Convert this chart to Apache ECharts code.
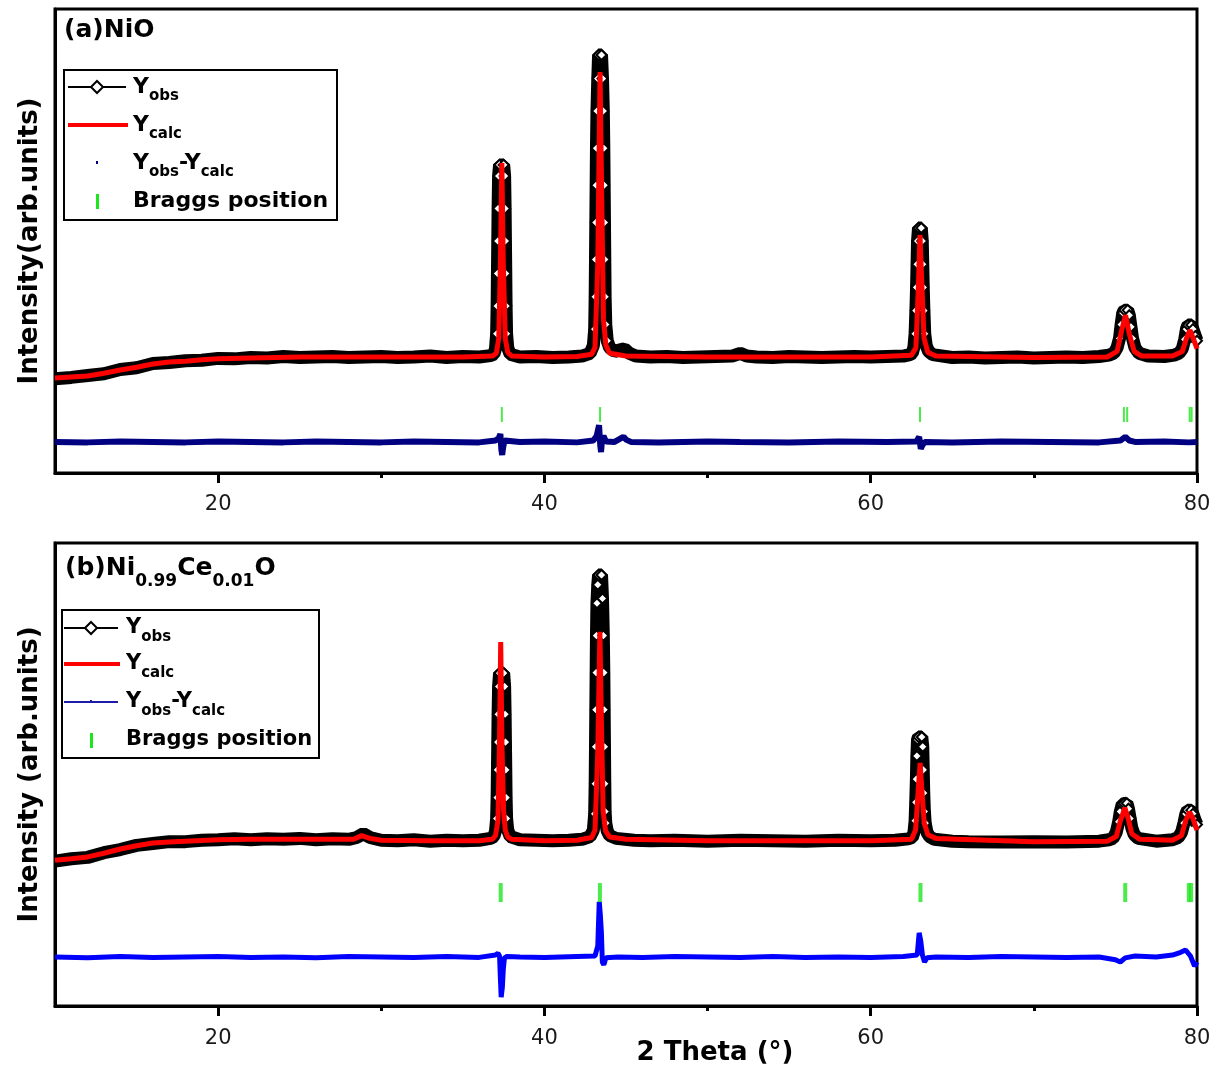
<!DOCTYPE html>
<html>
<head>
<meta charset="utf-8">
<title>Rietveld refinement NiO / Ni0.99Ce0.01O</title>
<script src="https://cdn.jsdelivr.net/npm/echarts@6/dist/echarts.min.js"></script>
<style>
html, body { margin: 0; padding: 0; background: #fff; }
#main { width: 1224px; height: 1074px; }
</style>
</head>
<body>
<div id="main"></div>
<script>
// ---- (a) NiO : [2theta, intensity (arb. units)] ----
var aObs = [
	[10,203],[11,206],[12,210],[13,214],[14,223],[15,227],[16,236],[17,238],[18,242],[19,243],[20,247],[21,246],[22,249],[23,248],[24,251],[25,249],[26,250],[27,251],[28,249],[29,250],[30,251],[31,249],[32,250],[33,252],[34,249],[35,251],[36,250],[36.7,253],
	[36.9,256],[37.0,268],[37.07,300],[37.1,360],[37.12,430],[37.14,500],[37.16,570],[37.19,640],[37.25,664],[37.5,664],[37.56,640],[37.59,570],[37.61,500],[37.63,430],[37.65,360],[37.68,300],[37.75,270],[37.9,256],
	[38.5,250],[39.5,251],[40.5,249],[41.5,250],[42.3,252],[42.8,258],
	[42.9,262],[43.0,275],[43.08,310],[43.11,380],[43.13,460],[43.15,540],[43.17,620],[43.19,700],[43.22,780],[43.27,850],[43.32,901],[43.5,901],[43.56,850],[43.61,780],[43.64,700],[43.66,620],[43.68,540],[43.7,460],[43.72,380],[43.76,320],[43.85,285],[44.0,270],[44.3,262],[44.6,265],[44.9,268],[45.2,258],[45.6,252],
	[46.5,250],[47.5,251],[48.5,249],[49.5,250],[50.5,251],[51.5,252],[52,258],[52.4,252],[53,250],[54,249],[55,251],[56,250],[57,249],[58,250],[59,251],[60,250],[61,251],[62,252],[62.4,255],
	[62.55,258],[62.65,272],[62.72,300],[62.77,350],[62.81,400],[62.84,450],[62.87,500],[62.93,528],[63.1,528],[63.16,500],[63.19,450],[63.22,400],[63.26,350],[63.31,300],[63.4,275],[63.55,262],[63.8,255],
	[65,249],[66,250],[67,248],[68,249],[69,250],[70,248],[71,249],[72,250],[73,249],[74,251],[74.6,254],
	[74.9,258],[75.1,270],[75.25,290],[75.35,320],[75.45,345],[75.55,351],[75.75,351],[75.85,340],[75.95,315],[76.05,290],[76.2,270],[76.45,258],[77,252],[78,251],[78.6,254],
	[78.9,258],[79.1,268],[79.25,288],[79.35,310],[79.45,319],[79.65,319],[79.75,310],[79.9,295],[80,285]
];
var aCalc = [
	[10,205],[11,207],[12,209],[13,215],[14,222],[15,228],[16,235],[17,239],[18,241],[19,244],[20,246],[22,248],[25,250],[30,250],[35,250],
	[36.8,252],[37.05,258],[37.2,290],[37.3,450],[37.39,668],[37.48,450],[37.6,290],[37.75,260],[38,252],[40,250],[42,251],
	[42.9,256],[43.1,270],[43.27,450],[43.41,864],[43.51,600],[43.62,330],[43.77,275],[44,258],[45,252],[50,250],[55,250],[60,250],
	[62.5,254],[62.77,270],[62.92,400],[63.02,513],[63.12,420],[63.27,290],[63.5,260],[64,252],[70,249],[74.5,250],
	[75.1,262],[75.4,310],[75.62,340],[75.85,300],[76.15,262],[76.6,252],[78.5,252],[79.1,262],[79.35,290],[79.57,308],[79.77,290],[80,268]
];
var aDiff = [
	[10,67],[12,66],[14,68],[16,67],[18,66],[20,68],[22,67],[24,66],[26,68],[28,67],[30,66],[32,68],[34,67],[36,66],
	[37.0,70],[37.2,75],[37.3,84],[37.36,50],[37.41,39],[37.47,55],[37.55,70],[37.65,66],[38.5,67],[40,68],[42,66],
	[43.0,70],[43.2,80],[43.35,103],[43.42,60],[43.47,45],[43.54,75],[43.62,80],[43.77,68],[44.3,67],[44.7,75],[44.85,78],[45.0,72],[45.3,67],
	[47,66],[50,68],[52,67],[55,66],[58,68],[61,67],[62.8,68],[62.97,78],[63.07,52],[63.17,60],[63.32,67],
	[65,66],[68,68],[71,67],[74,66],[75.3,70],[75.6,78],[75.85,70],[76.2,67],[78,68],[79.5,66],[80,67]
];
var aBragg = [37.39, 43.41, 63.02, 75.52, 75.72, 79.55, 79.67];
var aBraggLevel = 126;

// ---- (b) Ni0.99Ce0.01O ----
var bObs = [
	[10,313],[11,318],[12,321],[13,331],[14,338],[15,347],[16,351],[17,355],[18,355],[19,358],[20,359],[21,361],[22,359],[23,361],[24,360],[25,362],[26,359],[27,361],[28,360],[28.5,364],[28.9,372],[29.3,364],[30,358],[31,357],[32,359],[33,356],[34,358],[35,357],[36,358],[36.7,362],
	[36.9,366],[37.0,378],[37.07,405],[37.1,450],[37.12,510],[37.14,570],[37.16,630],[37.19,690],[37.25,719],[37.5,719],[37.56,690],[37.59,630],[37.61,570],[37.63,510],[37.65,450],[37.68,405],[37.75,380],[37.9,366],
	[38.5,359],[39.5,358],[40.5,357],[41.5,358],[42.3,360],[42.8,366],
	[42.9,368],[43.0,380],[43.08,415],[43.11,480],[43.13,560],[43.15,640],[43.17,720],[43.19,800],[43.22,870],[43.27,910],[43.32,931],[43.5,931],[43.56,880],[43.61,800],[43.64,720],[43.66,640],[43.68,560],[43.7,480],[43.72,420],[43.76,395],[43.85,378],[44.0,368],[44.4,362],[45.5,358],
	[46.5,357],[48,358],[50,356],[52,358],[54,357],[56,356],[58,358],[60,357],[61.5,358],[62.3,361],
	[62.55,364],[62.65,375],[62.72,400],[62.76,440],[62.8,490],[62.83,540],[62.87,575],[62.93,581],[63.13,581],[63.19,560],[63.22,510],[63.25,460],[63.29,420],[63.34,395],[63.45,375],[63.6,366],[63.9,360],
	[65,356],[66,355],[68,354],[70,355],[72,354],[74,356],[74.6,359],
	[74.85,362],[75.05,375],[75.2,398],[75.3,420],[75.42,436],[75.52,438],[75.7,438],[75.8,426],[75.9,405],[76.0,385],[76.15,370],[76.4,362],[77.5,356],[78.5,359],
	[78.85,364],[79.05,375],[79.2,395],[79.32,415],[79.42,423],[79.65,423],[79.75,415],[79.9,400],[80,392]
];
var bCalc = [
	[10,315],[11,318],[12,322],[13,330],[14,339],[15,346],[16,352],[17,354],[18,356],[20,359],[22,360],[25,360],[28.3,360],[28.8,368],[29.3,362],[30,358],[33,357],[36,357],
	[36.8,360],[37.0,368],[37.15,400],[37.24,560],[37.32,786],[37.4,560],[37.5,420],[37.6,380],[37.75,365],[38,360],[40,357],[42,358],
	[42.9,364],[43.1,380],[43.27,550],[43.4,808],[43.5,600],[43.6,420],[43.75,378],[44,365],[45,360],[50,357],[55,357],[60,357],
	[62.5,360],[62.75,380],[62.92,470],[63.03,525],[63.13,470],[63.28,395],[63.5,370],[64,362],[70,355],[74.5,356],
	[75.05,366],[75.3,400],[75.58,428],[75.78,405],[76.0,372],[76.5,360],[78.5,358],[79.05,368],[79.3,400],[79.55,419],[79.75,405],[80,380]
];
var bDiff = [
	[10,106],[12,104],[14,107],[16,105],[18,106],[20,107],[22,105],[24,106],[26,104],[28,107],[30,106],[32,105],[34,107],[36,105],
	[37.0,110],[37.15,114],[37.25,108],[37.3,60],[37.35,19],[37.42,40],[37.48,80],[37.55,104],[37.7,107],[38.5,106],[40,105],[42,107],
	[43.1,108],[43.27,130],[43.36,225],[43.42,200],[43.49,160],[43.55,95],[43.64,89],[43.77,104],[44.5,106],[46,105],[48,107],[50,106],[52,105],[54,107],[56,105],[58,106],[60,105],[62,107],
	[62.85,110],[62.97,158],[63.07,140],[63.17,110],[63.3,95],[63.45,104],[64,106],[66,105],[68,107],[70,106],[72,105],[74,106],
	[75.0,100],[75.3,95],[75.6,104],[76.2,108],[77.5,106],[78.5,110],[79.0,116],[79.3,121],[79.6,108],[79.85,86],[80,95]
];
var bBragg = [37.32, 43.4, 63.05, 75.6, 79.5, 79.64];
var bBraggLevel = 245;

var xMajor = [20, 40, 60, 80];
var xMinor = [30, 50, 70];

var FONT = 'DejaVu Sans';
var myChart = echarts.init(document.getElementById('main'));

function braggData(pos, level) {
	return pos.map(function(p) { return [p, level]; });
}

// x axes: main (ticks+labels) and a second one only for the short minor ticks
function mainX(grid, margin) {
	return {
		type : 'value', gridIndex : grid, position : 'bottom', min : 10, max : 80,
		axisLine : { show : true, lineStyle : { color : '#000', width : 3 } },
		axisTick : { show : true, customValues : xMajor, length : 10, lineStyle : { color : '#000', width : 3 } },
		axisLabel : { customValues : xMajor, margin : margin, fontFamily : FONT, fontSize : 21, color : '#1a1a1a' },
		splitLine : { show : false }
	};
}
function minorX(grid) {
	return {
		type : 'value', gridIndex : grid, position : 'bottom', offset : 0, min : 10, max : 80,
		axisLine : { show : false },
		axisTick : { show : true, customValues : xMinor, length : 5, lineStyle : { color : '#000', width : 3 } },
		axisLabel : { show : false },
		splitLine : { show : false }
	};
}
function yAx(grid, name) {
	return {
		type : 'value', gridIndex : grid, min : 0, max : 1000,
		name : name, nameLocation : 'middle', nameGap : 12,
		nameTextStyle : { fontFamily : FONT, fontWeight : 'bold', fontSize : 26, color : '#000' },
		axisLine : { show : true, lineStyle : { color : '#000', width : 3 } },
		axisTick : { show : false }, axisLabel : { show : false }, splitLine : { show : false }
	};
}

function panelSeries(xi, yi, obs, calc, diff, diffColor, diffWidth, bragg, level, braggSize, symLimit) {
	return [
		{
			name : 'Yobs', type : 'line', xAxisIndex : xi, yAxisIndex : yi, data : obs,
			symbol : 'diamond', showAllSymbol : true,
			symbolSize : function(v) { return v[1] > symLimit ? 10 : 0; },
			lineStyle : { color : '#000', width : 13, join : 'bevel' },
			itemStyle : { color : '#fff', borderColor : '#000', borderWidth : 2 },
			z : 2
		},
		{
			name : 'Ycalc', type : 'line', xAxisIndex : xi, yAxisIndex : yi, data : calc,
			symbol : 'none', lineStyle : { color : '#ff0000', width : 5, join : 'bevel' }, z : 3
		},
		{
			name : 'Yobs-Ycalc', type : 'line', xAxisIndex : xi, yAxisIndex : yi, data : diff,
			symbol : 'none', lineStyle : { color : diffColor, width : diffWidth, join : 'bevel' }, z : 3
		},
		{
			name : 'Braggs position', type : 'scatter', xAxisIndex : xi, yAxisIndex : yi,
			data : braggData(bragg, level), symbol : 'rect', symbolSize : braggSize,
			itemStyle : { color : '#1ee61e' }, z : 4
		}
	];
}

// legend drawn by hand so the subscripts look right
function rich(size, sub, lh) {
	return {
		m : { fontFamily : FONT, fontWeight : 'bold', fontSize : size, lineHeight : lh, fill : '#000' },
		s : { fontFamily : FONT, fontWeight : 'bold', fontSize : sub, verticalAlign : 'bottom', fill : '#000' }
	};
}
function legendGroup(box, x0, x1, tx, ys, diffColor, diffLine, size) {
	var mid = (x0 + x1) / 2;
	var r = rich(size, 15, 34);
	function txt(y, s) {
		return { type : 'text', x : tx, y : y, z : 20,
			style : { text : s, rich : r, align : 'left', verticalAlign : 'middle', fontFamily : FONT, fontSize : size, fontWeight : 'bold' } };
	}
	var els = [
		{ type : 'rect', z : 19, shape : box, style : { fill : '#fff', stroke : '#000', lineWidth : 2 } },
		{ type : 'line', z : 20, shape : { x1 : x0, y1 : ys[0], x2 : x1, y2 : ys[0] }, style : { stroke : '#000', lineWidth : 2 } },
		{ type : 'polygon', z : 21, shape : { points : [[mid, ys[0] - 6], [mid + 6, ys[0]], [mid, ys[0] + 6], [mid - 6, ys[0]]] }, style : { fill : '#fff', stroke : '#000', lineWidth : 2 } },
		{ type : 'line', z : 20, shape : { x1 : x0, y1 : ys[1], x2 : x1 + 2, y2 : ys[1] }, style : { stroke : '#ff0000', lineWidth : 4 } },
		{ type : 'rect', z : 21, shape : { x : mid - 1, y : ys[2] - 2, width : 2, height : 3 }, style : { fill : diffColor } },
		{ type : 'rect', z : 20, shape : { x : mid - 1, y : ys[3] - 7, width : 3, height : 15 }, style : { fill : '#1ee61e' } },
		txt(ys[0], '{m|Y}{s|obs}'),
		txt(ys[1], '{m|Y}{s|calc}'),
		txt(ys[2], '{m|Y}{s|obs}{m|-Y}{s|calc}'),
		txt(ys[3], '{m|Braggs position}')
	];
	if (diffLine) {
		els.push({ type : 'line', z : 20, shape : { x1 : x0, y1 : ys[2], x2 : x1, y2 : ys[2] }, style : { stroke : diffColor, lineWidth : 2 } });
	}
	return els;
}

var graphics = [
	{ type : 'text', x : 64, y : 30, z : 20,
		style : { text : '(a)NiO', fontFamily : FONT, fontWeight : 'bold', fontSize : 25, fill : '#000', align : 'left', verticalAlign : 'middle' } },
	{ type : 'text', x : 65, y : 568, z : 20,
		style : { text : '{m|(b)Ni}{s|0.99}{m|Ce}{s|0.01}{m|O}', rich : {
			m : { fontFamily : FONT, fontWeight : 'bold', fontSize : 25, lineHeight : 44, fill : '#000' },
			s : { fontFamily : FONT, fontWeight : 'bold', fontSize : 17, verticalAlign : 'bottom', fill : '#000' }
		}, align : 'left', verticalAlign : 'middle', fontFamily : FONT, fontSize : 25 } },
	{ type : 'text', x : 715, y : 1053, z : 20,
		style : { text : '2 Theta (°)', fontFamily : FONT, fontWeight : 'bold', fontSize : 26, fill : '#000', align : 'center', verticalAlign : 'middle' } }
];
graphics = graphics.concat(
	legendGroup({ x : 64, y : 70, width : 273, height : 150 }, 68, 126, 133, [87, 125, 163, 201], '#000080', false, 22),
	legendGroup({ x : 62, y : 610, width : 257, height : 148 }, 64, 118, 126, [628, 664, 702, 740], '#1c1ca8', true, 21)
);

var option = {
	backgroundColor : '#fff',
	animation : false,
	grid : [
		{ left : 55, top : 9, width : 1142, height : 464, show : true, borderColor : '#000', borderWidth : 3 },
		{ left : 55, top : 543, width : 1142, height : 463, show : true, borderColor : '#000', borderWidth : 3 }
	],
	xAxis : [ mainX(0, 21), minorX(0), mainX(1, 22), minorX(1) ],
	yAxis : [ yAx(0, 'Intensity(arb.units)'), yAx(1, 'Intensity (arb.units)') ],
	series : panelSeries(0, 0, aObs, aCalc, aDiff, '#000080', 6, aBragg, aBraggLevel, [2, 15], 280)
		.concat(panelSeries(2, 1, bObs, bCalc, bDiff, '#0000ff', 5, bBragg, bBraggLevel, [4, 19], 390)),
	graphic : graphics
};
myChart.setOption(option);
</script>
</body>
</html>
